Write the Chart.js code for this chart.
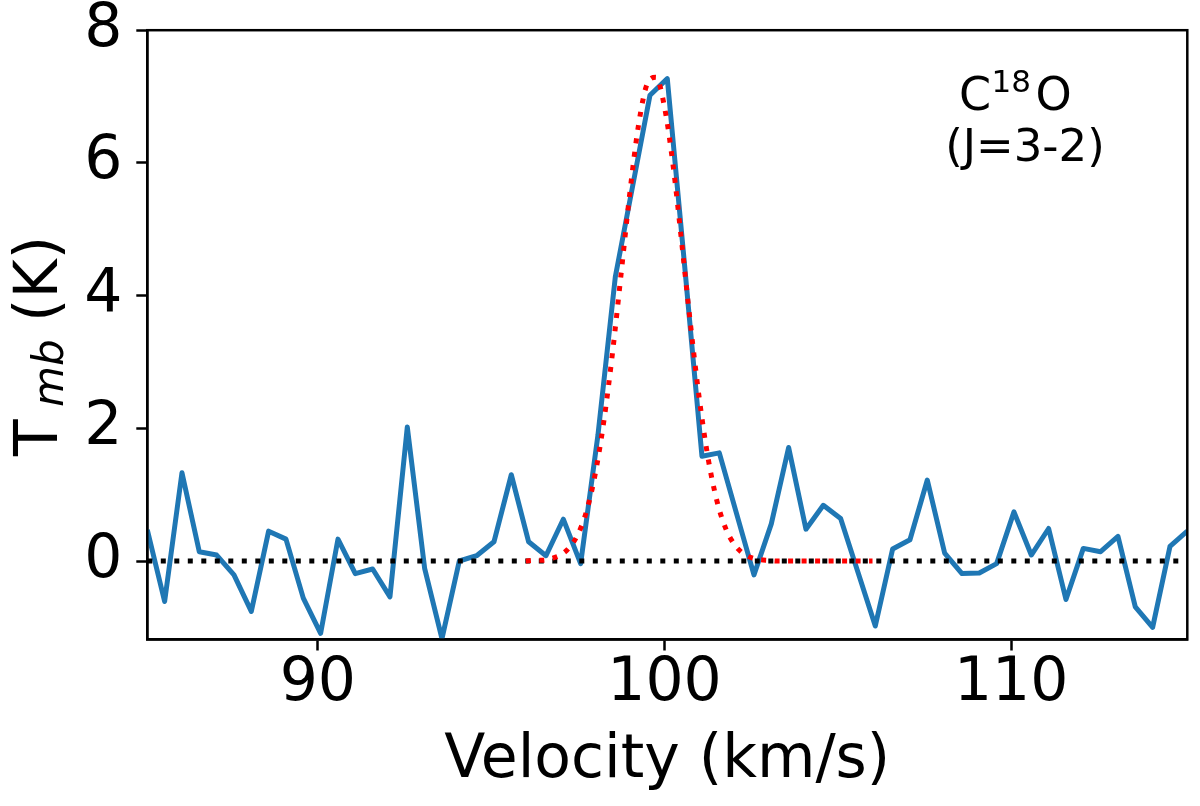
<!DOCTYPE html>
<html>
<head>
<meta charset="utf-8">
<title>C18O (J=3-2) spectrum</title>
<script src="https://cdn.jsdelivr.net/npm/chart.js@4.4.1/dist/chart.umd.min.js"></script>
<style>
  html, body { margin: 0; padding: 0; background: #fff; }
  #spectrum { display: block; }
</style>
</head>
<body>
<canvas id="spectrum" width="1200" height="806"></canvas>
<script>
// ─── Data ────────────────────────────────────────────────
const velocity = [
  85.08, 85.58, 86.08, 86.58, 87.08, 87.58, 88.08, 88.58, 89.08, 89.58,
  90.08, 90.58, 91.08, 91.58, 92.08, 92.58, 93.08, 93.58, 94.08, 94.58,
  95.08, 95.58, 96.08, 96.58, 97.08, 97.58, 98.08, 98.58, 99.08, 99.58,
  100.08, 100.58, 101.08, 101.58, 102.08, 102.58, 103.08, 103.58, 104.08, 104.58,
  105.08, 105.58, 106.08, 106.58, 107.08, 107.58, 108.08, 108.58, 109.08, 109.58,
  110.08, 110.58, 111.08, 111.58, 112.08, 112.58, 113.08, 113.58, 114.08, 114.58,
  115.08
];
const tmb = [
  0.47, -0.61, 1.33, 0.14, 0.09, -0.21, -0.76, 0.45, 0.33, -0.56,
  -1.09, 0.33, -0.19, -0.12, -0.54, 2.02, -0.11, -1.17, 0.00, 0.08,
  0.29, 1.30, 0.29, 0.08, 0.63, -0.04, 1.90, 4.28, 5.65, 7.02,
  7.27, 4.45, 1.58, 1.63, 0.71, -0.21, 0.56, 1.71, 0.48, 0.84,
  0.64, -0.17, -0.98, 0.18, 0.32, 1.22, 0.12, -0.19, -0.18, -0.04,
  0.74, 0.09, 0.49, -0.58, 0.19, 0.14, 0.37, -0.69, -1.00, 0.22,
  0.45
];

// gaussian fit (red dotted)
const fitVelocity = [
  96.00, 96.25, 96.50, 96.75, 97.00, 97.25, 97.50, 97.75, 98.00, 98.25,
  98.50, 98.75, 99.00, 99.25, 99.50, 99.75, 100.00, 100.25, 100.50, 100.75,
  101.00, 101.25, 101.50, 101.75, 102.00, 102.25, 102.50, 102.75, 103.00, 103.25,
  103.50, 104.00, 104.50, 105.00, 105.50, 106.00
];
const fitTmb = [
  0.00, 0.01, 0.01, 0.04, 0.09, 0.20, 0.40, 0.75, 1.31, 2.11,
  3.14, 4.34, 5.55, 6.57, 7.19, 7.29, 6.84, 5.95, 4.78, 3.56,
  2.46, 1.57, 0.93, 0.51, 0.26, 0.12, 0.05, 0.02, 0.01, 0.00,
  0.00, 0.00, 0.00, 0.00, 0.00, 0.00
];

// zero level (black dotted)
const baselineVelocity = [85.08, 114.9];
const baselineTmb = [0, 0];

const xTickValues = [90, 100, 110];
const yTickValues = [0, 2, 4, 6, 8];

const FONT = '"DejaVu Sans", sans-serif';

const toPoints = (xs, ys) => xs.map((x, i) => ({ x, y: ys[i] }));

// ─── Frame + text labels (subscript / superscript) ───────
const framePlugin = {
  id: 'frame',
  afterDatasetsDraw(chart) {
    const { ctx, chartArea: { left, right, top, bottom } } = chart;
    ctx.save();
    ctx.strokeStyle = '#000';
    ctx.lineWidth = 2.5;
    ctx.strokeRect(left, top, right - left, bottom - top);
    ctx.restore();
  },
  afterDraw(chart) {
    const { ctx } = chart;
    ctx.save();
    ctx.fillStyle = '#000';
    ctx.textBaseline = 'alphabetic';
    ctx.textAlign = 'left';

    // y title: T_mb (K)
    ctx.translate(57.3, 456);
    ctx.rotate(-Math.PI / 2);
    ctx.font = '60px ' + FONT;
    ctx.fillText('T', 0, 0);
    ctx.font = 'italic 42px ' + FONT;
    ctx.fillText('mb', 49, 6);
    ctx.font = '60px ' + FONT;
    ctx.fillText('(K)', 134, 0);
    ctx.restore();

    // line annotation
    ctx.save();
    ctx.fillStyle = '#000';
    ctx.textBaseline = 'alphabetic';
    ctx.textAlign = 'left';
    ctx.font = '46px ' + FONT;
    ctx.fillText('C', 959.1, 110);
    ctx.font = '31px ' + FONT;
    ctx.fillText('18', 991.5, 92);
    ctx.font = '46px ' + FONT;
    ctx.fillText('O', 1035.5, 110);
    ctx.textAlign = 'center';
    ctx.font = '45px ' + FONT;
    ctx.fillText('(J=3-2)', 1025, 161);
    ctx.restore();
  },
};

new Chart(document.getElementById('spectrum'), {
  type: 'line',
  data: {
    datasets: [
      {
        label: 'fit',
        data: toPoints(fitVelocity, fitTmb),
        borderColor: '#ff0000',
        borderWidth: 5,
        borderDash: [5, 8.5],
        borderCapStyle: 'butt',
        cubicInterpolationMode: 'monotone',
        pointRadius: 0,
        clip: 0,
        order: 0,
      },
      {
        label: 'zero',
        data: toPoints(baselineVelocity, baselineTmb),
        borderColor: '#000000',
        borderWidth: 5,
        borderDash: [5, 8.5],
        borderCapStyle: 'butt',
        pointRadius: 0,
        clip: 0,
        order: 1,
      },
      {
        label: 'C18O (J=3-2)',
        data: toPoints(velocity, tmb),
        borderColor: '#1f77b4',
        borderWidth: 5,
        borderJoinStyle: 'round',
        tension: 0,
        pointRadius: 0,
        clip: 0,
        order: 2,
      },
    ],
  },
  options: {
    responsive: false,
    animation: false,
    devicePixelRatio: 1,
    layout: {
      autoPadding: false,
      padding: { left: 0, right: 12.7, top: 30.2, bottom: 0 },
    },
    plugins: {
      legend: { display: false },
      tooltip: { enabled: false },
    },
    scales: {
      x: {
        type: 'linear',
        min: 85.08,
        max: 115.08,
        afterBuildTicks: scale => { scale.ticks = xTickValues.map(value => ({ value })); },
        afterFit: scale => { scale.height = 166.5; scale.paddingLeft = 0; scale.paddingRight = 0; },
        grid: { drawOnChartArea: false, drawTicks: true, tickLength: 11, tickWidth: 2.5, tickColor: '#000' },
        border: { display: true, color: '#000', width: 2.5 },
        ticks: {
          color: '#000',
          padding: 4,
          maxRotation: 0,
          font: { family: FONT, size: 60, lineHeight: 1 },
          callback: v => String(v),
        },
        title: {
          display: true,
          text: 'Velocity (km/s)',
          color: '#000',
          font: { family: FONT, size: 60, lineHeight: 1 },
          padding: { top: 0, bottom: 15 },
        },
      },
      y: {
        type: 'linear',
        min: -1.183,
        max: 8,
        afterBuildTicks: scale => { scale.ticks = yTickValues.map(value => ({ value })); },
        afterFit: scale => { scale.width = 147.3; scale.paddingTop = 0; scale.paddingBottom = 0; },
        grid: { drawOnChartArea: false, drawTicks: true, tickLength: 11, tickWidth: 2.5, tickColor: '#000' },
        border: { display: true, color: '#000', width: 2.5 },
        ticks: {
          color: '#000',
          padding: 14,
          font: { family: FONT, size: 60, lineHeight: 1 },
          callback: v => String(v),
        },
      },
    },
  },
  plugins: [framePlugin],
});
</script>
</body>
</html>
